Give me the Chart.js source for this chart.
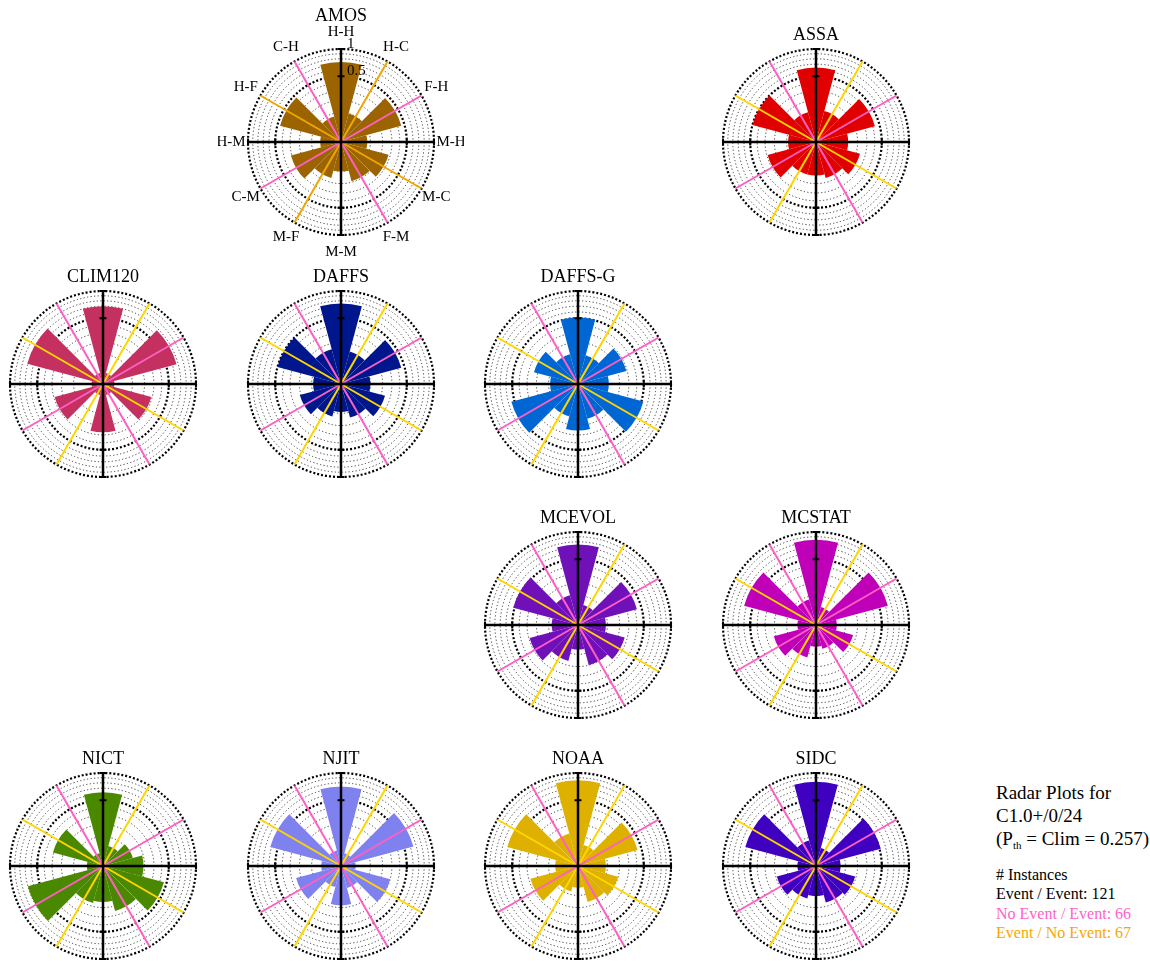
<!DOCTYPE html>
<html>
<head>
<meta charset="utf-8">
<script src="https://cdn.jsdelivr.net/npm/chart.js@4.4.1/dist/chart.umd.min.js"></script>
<style>
  html, body { margin: 0; padding: 0; background: #fff; }
  body { width: 1150px; height: 961px; position: relative; overflow: hidden; font-family: "Liberation Serif", "DejaVu Serif", serif; }
  canvas { position: absolute; }
  .note { position: absolute; left: 996px; line-height: 1; white-space: nowrap; color: #000; }
  .big { font-size: 19px; }
  .small { font-size: 16px; }
  .sub { font-size: 11px; position: relative; top: 4px; }
</style>
</head>
<body>
<div class="note big" style="top:783px">Radar Plots for</div>
<div class="note big" style="top:806px">C1.0+/0/24</div>
<div class="note big" style="top:829px">(P<span class="sub">th</span> = Clim = 0.257)</div>
<div class="note small" style="top:867px"># Instances</div>
<div class="note small" style="top:886px">Event / Event: 121</div>
<div class="note small" style="top:906px;color:#ff62c8">No Event / Event: 66</div>
<div class="note small" style="top:925px;color:#f5a800">Event / No Event: 67</div>
<script>
// spoke order, clockwise from the top
const categories = ['H-H', 'H-C', 'F-H', 'M-H', 'M-C', 'F-M', 'M-M', 'M-F', 'C-M', 'H-M', 'H-F', 'C-H'];
const tickValues = [0.5, 1];

const amos    = [0.74, 0.10, 0.45, 0.08, 0.28, 0.19, 0.10, 0.16, 0.31, 0.05, 0.46, 0.08];
const assa    = [0.64, 0.12, 0.43, 0.12, 0.24, 0.16, 0.13, 0.13, 0.29, 0.09, 0.50, 0.11];
const clim120 = [0.70, 0.015, 0.67, 0.015, 0.29, 0.015, 0.27, 0.015, 0.29, 0.015, 0.71, 0.015];
const daffs   = [0.75, 0.13, 0.45, 0.10, 0.24, 0.14, 0.09, 0.13, 0.21, 0.09, 0.50, 0.15];
const daffsG  = [0.51, 0.10, 0.29, 0.11, 0.53, 0.15, 0.25, 0.13, 0.55, 0.09, 0.24, 0.11];
const mcevol  = [0.75, 0.05, 0.43, 0.09, 0.27, 0.20, 0.07, 0.16, 0.29, 0.08, 0.52, 0.11];
const mcstat  = [0.84, 0.04, 0.64, 0.05, 0.17, 0.07, 0.055, 0.13, 0.22, 0.04, 0.64, 0.08];
const nict    = [0.63, 0.05, 0.11, 0.19, 0.46, 0.25, 0.15, 0.17, 0.70, 0.03, 0.31, 0.02];
const njit    = [0.73, 0.02, 0.65, 0.025, 0.30, 0.06, 0.18, 0.055, 0.25, 0.045, 0.62, 0.03];
const noaa    = [0.85, 0.055, 0.44, 0.09, 0.20, 0.16, 0.055, 0.08, 0.28, 0.06, 0.62, 0.13];
const sidc    = [0.82, 0.04, 0.52, 0.07, 0.19, 0.165, 0.105, 0.13, 0.19, 0.04, 0.62, 0.08];

Chart.defaults.font.family = '"Liberation Serif", "DejaVu Serif", serif';

// radial scale where the radius goes with the square root of the value (area-true rose)
class SqrtRadialScale extends Chart.RadialLinearScale {
  static id = 'radialSqrt';
  getDistanceFromCenterForValue(value) {
    if (value === null || value === undefined || isNaN(value)) return NaN;
    const span = this.max - this.min;
    const v = Math.min(Math.max(value - this.min, 0), span);
    return this.drawingArea * Math.sqrt(v / span);
  }
  getValueForDistanceFromCenter(distance) {
    const f = distance / this.drawingArea;
    return this.min + f * f * (this.max - this.min);
  }
}
Chart.register(SqrtRadialScale);

const PINK = '#ff5fc4';

const spokePlugin = {
  id: 'spokes',
  afterDraw(chart, args, opts) {
    const r = chart.scales.r;
    const ctx = chart.ctx;
    const R = r.drawingArea;
    const half = Math.PI / 12; // segments are centred on the spokes
    ctx.save();
    ctx.lineCap = 'butt';
    // coloured diagonals
    categories.forEach((c, i) => {
      if (i % 3 === 0) return;
      const p = r.getPointPosition(i, R, half);
      ctx.strokeStyle = i % 3 === 1 ? opts.yellow : PINK;
      ctx.lineWidth = 2;
      ctx.beginPath(); ctx.moveTo(r.xCenter, r.yCenter); ctx.lineTo(p.x, p.y); ctx.stroke();
    });
    // black axes with tick marks
    categories.forEach((c, i) => {
      if (i % 3 !== 0) return;
      const p = r.getPointPosition(i, R, half);
      ctx.strokeStyle = '#000';
      ctx.lineWidth = 2.5;
      ctx.beginPath(); ctx.moveTo(r.xCenter, r.yCenter); ctx.lineTo(p.x, p.y); ctx.stroke();
      const a = r.getIndexAngle(i) + half - Math.PI / 2;
      const nx = -Math.sin(a), ny = Math.cos(a);
      ctx.lineWidth = 2;
      tickValues.forEach(v => {
        const q = r.getPointPosition(i, r.getDistanceFromCenterForValue(v), half);
        ctx.beginPath();
        ctx.moveTo(q.x - nx * 3.5, q.y - ny * 3.5);
        ctx.lineTo(q.x + nx * 3.5, q.y + ny * 3.5);
        ctx.stroke();
      });
    });
    if (opts.labels) {
      ctx.fillStyle = '#000';
      ctx.font = '15px "Liberation Serif", serif';
      ctx.textAlign = 'center';
      ctx.textBaseline = 'middle';
      categories.forEach((c, i) => {
        const p = r.getPointPosition(i, R + 17, half);
        ctx.fillText(c, p.x, p.y);
      });
      ctx.textAlign = 'left';
      tickValues.forEach(v => {
        const d = r.getDistanceFromCenterForValue(v);
        ctx.fillText(String(v), r.xCenter + 6, r.yCenter - d - 5);
      });
    }
    ctx.restore();
  }
};

function isMajor(v) { return Math.abs(v - 0.5) < 1e-6 || Math.abs(v - 1) < 1e-6; }

function makePanel(name, values, color, cx, cy, withLabels) {
  const canvas = document.createElement('canvas');
  canvas.width = 246;
  canvas.height = withLabels ? 269 : 250;
  document.body.appendChild(canvas);
  const chart = new Chart(canvas, {
    type: 'polarArea',
    data: {
      labels: categories,
      datasets: [{ label: name, data: values, backgroundColor: color, borderWidth: 0 }]
    },
    options: {
      responsive: false,
      animation: false,
      events: [],
      layout: { padding: { left: 30, right: 30, top: 0, bottom: 30 } },
      plugins: {
        legend: { display: false },
        tooltip: { enabled: false },
        title: {
          display: true, text: name, color: '#000',
          font: { size: 18, weight: 'normal' },
          padding: { top: 8, bottom: withLabels ? 23 : 4 }
        },
        spokes: { labels: withLabels, yellow: withLabels ? '#f0a500' : '#ffd500' }
      },
      scales: {
        r: {
          type: 'radialSqrt',
          min: 0, max: 1,
          startAngle: -15,
          z: 1,
          ticks: { display: false, stepSize: 0.1 },
          angleLines: { display: false },
          pointLabels: { display: false },
          grid: {
            circular: true,
            color: c => isMajor(c.tick.value) ? '#000' : '#3a3a3a',
            lineWidth: c => isMajor(c.tick.value) ? 2.2 : 1
          },
          border: {
            dash: c => isMajor(c.tick.value) ? [2, 2] : [1.2, 2.3]
          }
        }
      }
    },
    plugins: [spokePlugin]
  });
  const r = chart.scales.r;
  canvas.style.left = (cx - r.xCenter) + 'px';
  canvas.style.top = (cy - r.yCenter) + 'px';
}

makePanel('AMOS', amos, '#9b6400', 341, 142, true);
makePanel('ASSA', assa, '#e00000', 816, 142, false);
makePanel('CLIM120', clim120, '#c4305f', 103, 384, false);
makePanel('DAFFS', daffs, '#00168c', 341, 384, false);
makePanel('DAFFS-G', daffsG, '#0066d4', 578, 384, false);
makePanel('MCEVOL', mcevol, '#7010b8', 578, 625, false);
makePanel('MCSTAT', mcstat, '#c000b8', 816, 625, false);
makePanel('NICT', nict, '#4a8800', 103, 866, false);
makePanel('NJIT', njit, '#7f82ee', 341, 866, false);
makePanel('NOAA', noaa, '#deb000', 578, 866, false);
makePanel('SIDC', sidc, '#4000c0', 816, 866, false);
</script>
</body>
</html>
